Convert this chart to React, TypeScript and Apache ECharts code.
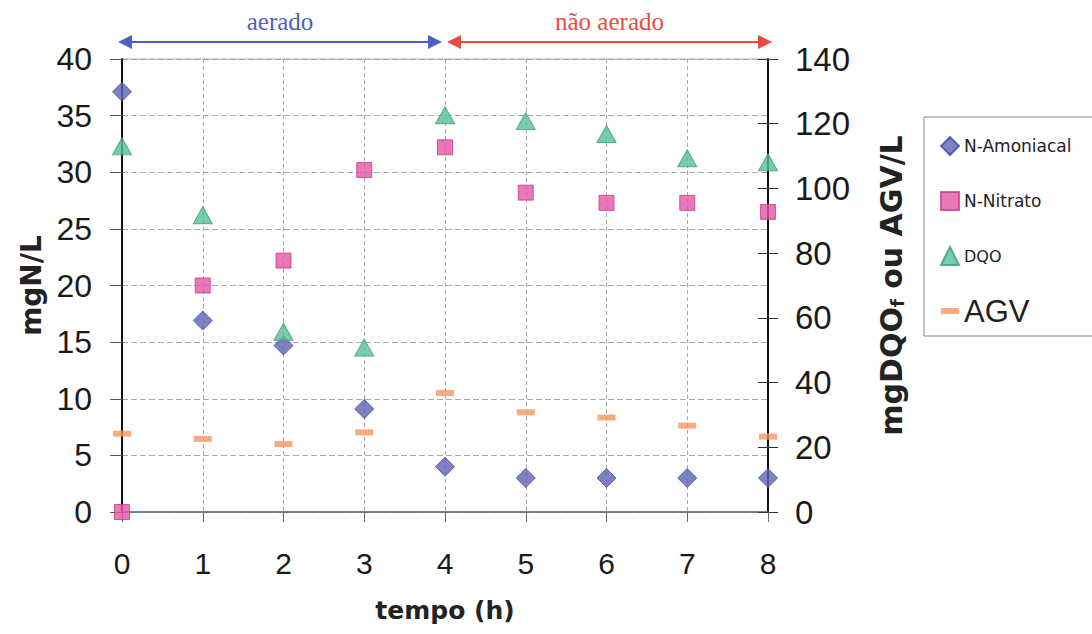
import React, { useEffect, useRef } from "react";
import * as echarts from "echarts";

const hours = [0, 1, 2, 3, 4, 5, 6, 7, 8];
const nAmoniacal = [37.1, 16.9, 14.7, 9.1, 4.0, 3.0, 3.0, 3.0, 3.0];
const nNitrato = [0, 20.0, 22.2, 30.2, 32.2, 28.2, 27.3, 27.3, 26.5];
const dqo = [113, 91.7, 55.7, 50.8, 122.6, 120.8, 116.8, 109.3, 108.1];
const agv = [24.2, 22.6, 21.0, 24.6, 36.8, 30.8, 29.2, 26.7, 23.3];
const seriesNames = ["N-Amoniacal", "N-Nitrato", "DQO", "AGV"];
const phaseLabels = ["aerado", "não aerado"];
const phaseBounds = [0, 4, 8];

const pairs = (vals: number[]) => hours.map((h, i) => [h, vals[i]]);

export default function App() {
  const ref = useRef<HTMLDivElement>(null);
  useEffect(() => {
    document.body.style.margin = "0";
    const chart = echarts.init(ref.current!, undefined, { renderer: "svg" });
    const axisFont = "'Liberation Sans', Arial, sans-serif";
    const titleFont = "'DejaVu Sans', sans-serif";
    chart.setOption({
      animation: false,
      backgroundColor: "#ffffff",
      grid: {
        left: 122,
        right: 324,
        top: 59,
        bottom: 122,
        show: true,
        borderColor: "#aaaaaa",
        borderWidth: 1,
      },
      legend: {
        orient: "vertical",
        left: 924,
        top: 117,
        itemWidth: 18,
        itemHeight: 18,
        itemGap: 21,
        padding: [12, 30, 8, 16],
        borderColor: "#888888",
        borderWidth: 1,
        data: [
          { name: seriesNames[0], icon: "diamond", textStyle: { fontFamily: titleFont, fontSize: 17, color: "#222", lineHeight: 34 } },
          { name: seriesNames[1], icon: "rect", textStyle: { fontFamily: titleFont, fontSize: 17, color: "#222", lineHeight: 34 } },
          { name: seriesNames[2], icon: "triangle", textStyle: { fontFamily: titleFont, fontSize: 16, color: "#222", lineHeight: 34 } },
          { name: seriesNames[3], icon: "path://M0,0H18V6H0Z", textStyle: { fontFamily: axisFont, fontSize: 31, color: "#222", lineHeight: 34 } },
        ],
      },
      xAxis: {
        type: "value",
        min: 0,
        max: 8,
        interval: 1,
        name: "tempo (h)",
        nameLocation: "middle",
        nameGap: 86,
        nameTextStyle: { fontFamily: titleFont, fontWeight: "bold", fontSize: 25, color: "#222" },
        axisLine: { onZero: false, lineStyle: { color: "#666666", width: 1.5 } },
        axisTick: { show: true, length: 10, lineStyle: { color: "#666666" } },
        axisLabel: { fontFamily: axisFont, fontSize: 30, color: "#1a1a1a", margin: 36 },
        splitLine: { show: true, lineStyle: { color: "#a8a8a8", type: [4, 3], width: 1 } },
      },
      yAxis: [
        {
          type: "value",
          min: 0,
          max: 40,
          interval: 5,
          position: "left",
          name: "mgN/L",
          nameLocation: "middle",
          nameRotate: 90,
          nameGap: 66,
          nameTextStyle: { fontFamily: titleFont, fontWeight: "bold", fontSize: 28, color: "#222" },
          axisLine: { show: true, lineStyle: { color: "#111111", width: 2 } },
          axisTick: { show: true, length: 12, lineStyle: { color: "#555555" } },
          axisLabel: { fontFamily: axisFont, fontSize: 32, color: "#1a1a1a", margin: 30 },
          splitLine: { show: true, lineStyle: { color: "#a8a8a8", type: [6, 3], width: 1 } },
        },
        {
          type: "value",
          min: 0,
          max: 140,
          interval: 20,
          position: "right",
          name: "mgDQO{sub|f} ou AGV/L",
          nameLocation: "middle",
          nameRotate: 90,
          nameGap: 108,
          nameTextStyle: {
            fontFamily: titleFont,
            fontWeight: "bold",
            fontSize: 30,
            color: "#222",
            rich: {
              sub: { fontFamily: titleFont, fontWeight: "bold", fontSize: 18, color: "#222", verticalAlign: "bottom", lineHeight: 30 },
            },
          },
          axisLine: { show: true, lineStyle: { color: "#111111", width: 2 } },
          axisTick: { show: true, length: 10, lineStyle: { color: "#333333" } },
          axisLabel: { fontFamily: axisFont, fontSize: 33, color: "#1a1a1a", margin: 27 },
          splitLine: { show: false },
        },
        {
          type: "value",
          min: 0,
          max: 140,
          interval: 20,
          position: "right",
          axisLine: { show: false },
          axisTick: { show: true, inside: true, length: 10, lineStyle: { color: "#333333" } },
          axisLabel: { show: false },
          splitLine: { show: false },
        },
      ],
      series: [
        {
          name: seriesNames[0],
          type: "scatter",
          yAxisIndex: 0,
          symbol: "diamond",
          symbolSize: 19,
          itemStyle: { color: "#5b63b5", borderColor: "#454c9c", borderWidth: 1 },
          data: pairs(nAmoniacal),
        },
        {
          name: seriesNames[1],
          type: "scatter",
          yAxisIndex: 0,
          symbol: "rect",
          symbolSize: 15,
          itemStyle: { color: "#e256a6", borderColor: "#c83b8c", borderWidth: 1 },
          data: pairs(nNitrato),
        },
        {
          name: seriesNames[2],
          type: "scatter",
          yAxisIndex: 1,
          symbol: "triangle",
          symbolSize: [19, 17],
          itemStyle: { color: "#55c094", borderColor: "#3c9e76", borderWidth: 1 },
          data: pairs(dqo),
        },
        {
          name: seriesNames[3],
          type: "scatter",
          yAxisIndex: 1,
          symbol: "rect",
          symbolSize: [18, 6],
          itemStyle: { color: "#f7955f" },
          data: pairs(agv),
        },
      ],
    });

    const px = phaseBounds.map((b) => Number(chart.convertToPixel({ xAxisIndex: 0 }, b)));
    const yTop = Number(chart.convertToPixel({ yAxisIndex: 0 }, 40));
    const ay = yTop - 17;
    const ah = 14;
    const aw = 7;
    const mkArrow = (x1: number, x2: number, color: string, label: string) => [
      { type: "line", shape: { x1: x1 + 4, y1: ay, x2: x2 - 4, y2: ay }, style: { stroke: color, lineWidth: 2 } },
      { type: "polygon", shape: { points: [[x1, ay], [x1 + ah, ay - aw], [x1 + ah, ay + aw]] }, style: { fill: color } },
      { type: "polygon", shape: { points: [[x2, ay], [x2 - ah, ay - aw], [x2 - ah, ay + aw]] }, style: { fill: color } },
      {
        type: "text",
        x: (x1 + x2) / 2,
        y: ay - 21,
        style: { text: label, fill: color, font: "25px 'Liberation Serif', 'Times New Roman', serif", align: "center", verticalAlign: "middle" },
      },
    ];
    chart.setOption({
      graphic: [
        ...mkArrow(px[0] - 4, px[1] - 3, "#4f5fc2", phaseLabels[0]),
        ...mkArrow(px[1] + 2, px[2] + 4, "#ee4a42", phaseLabels[1]),
      ],
    });

    return () => chart.dispose();
  }, []);
  return <div ref={ref} style={{ width: 1092, height: 634 }} />;
}
